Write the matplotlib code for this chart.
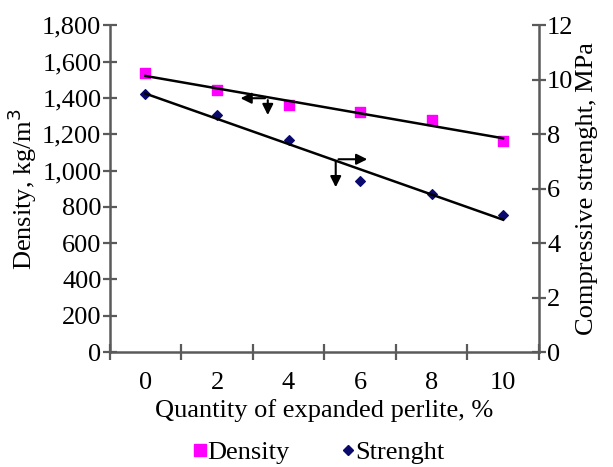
import numpy as np
import matplotlib.pyplot as plt
from matplotlib.lines import Line2D

categories = ['0', '2', '4', '6', '8', '10']
density = [1535, 1442, 1359, 1321, 1277, 1161]
strength = [9.47, 8.70, 7.78, 6.27, 5.80, 5.03]

plt.rcParams['font.family'] = 'Liberation Serif'

axis_col = '#5a5a5a'
fs = 19
pos = np.arange(len(categories))

fig = plt.figure(figsize=(6.13, 4.67), dpi=100)
ax = fig.add_axes([0.179, 0.246, 0.700, 0.700])
ax2 = ax.twinx()

# markers
ax.scatter(pos, density, marker='s', s=60, color='#ff00ff', zorder=3)
ax2.scatter(pos, strength, marker='D', s=24, color='#0a0a6e', zorder=3)

# linear trend lines
p1 = np.polyfit(pos, density, 1)
p2 = np.polyfit(pos, strength, 1)
ax.plot(pos, np.polyval(p1, pos), color='black', lw=1.8, zorder=4)
ax2.plot(pos, np.polyval(p2, pos), color='black', lw=1.8, zorder=4)

ax.set_xlim(-0.5, 5.5)
ax.set_ylim(0, 1800)
ax2.set_ylim(0, 12)
ax.set_yticks(np.arange(0, 1801, 200))
ax.set_yticklabels([f'{v:,}' for v in range(0, 1801, 200)])
ax2.set_yticks(np.arange(0, 13, 2))

ax.set_xticks(pos)
ax.set_xticklabels(categories)
ax.set_xticks(np.arange(-0.5, 5.6, 1), minor=True)
ax.tick_params(axis='x', which='major', length=0, pad=14, labelsize=fs)
ax.tick_params(axis='x', which='minor', direction='inout', length=12, width=1.6, color=axis_col)
ax.tick_params(axis='y', direction='inout', length=10, width=1.6, color=axis_col, labelsize=fs, pad=1)
ax2.tick_params(axis='y', direction='inout', length=10, width=1.6, color=axis_col, labelsize=fs, pad=1)

for a in (ax, ax2):
    a.spines['top'].set_visible(False)
    for s in ('left', 'right', 'bottom'):
        a.spines[s].set_color(axis_col)
        a.spines[s].set_linewidth(1.8)
ax.spines['right'].set_visible(False)
ax2.spines['left'].set_visible(False)
ax2.spines['bottom'].set_visible(False)

ax.set_xlabel('Quantity of expanded perlite, %', fontsize=fs, labelpad=4)
ax.set_ylabel('Density, kg/m$^3$', fontsize=fs, labelpad=2)
ax2.set_ylabel('Compressive strenght, MPa', fontsize=fs, labelpad=2)

# axis indicator arrows
arr = dict(arrowstyle='-|>', color='black', lw=1.5, mutation_scale=16)
ax.annotate('', xy=(1.29, 1398), xytext=(1.71, 1398), arrowprops=arr)
ax.annotate('', xy=(1.71, 1290), xytext=(1.71, 1403), arrowprops=arr)
ax2.annotate('', xy=(3.14, 7.08), xytext=(2.66, 7.08), arrowprops=arr)
ax2.annotate('', xy=(2.66, 5.95), xytext=(2.66, 7.12), arrowprops=arr)

handles = [
    Line2D([], [], marker='s', ls='none', color='#ff00ff', markersize=8),
    Line2D([], [], marker='D', ls='none', color='#0a0a6e', markersize=5),
]
fig.legend(handles, ['Density', 'Strenght'], loc='lower center', ncol=2,
           bbox_to_anchor=(0.515, -0.045), frameon=False, fontsize=fs,
           handletextpad=-0.2, columnspacing=1.7, handlelength=1.0)

fig.savefig('out.png', dpi=100)
